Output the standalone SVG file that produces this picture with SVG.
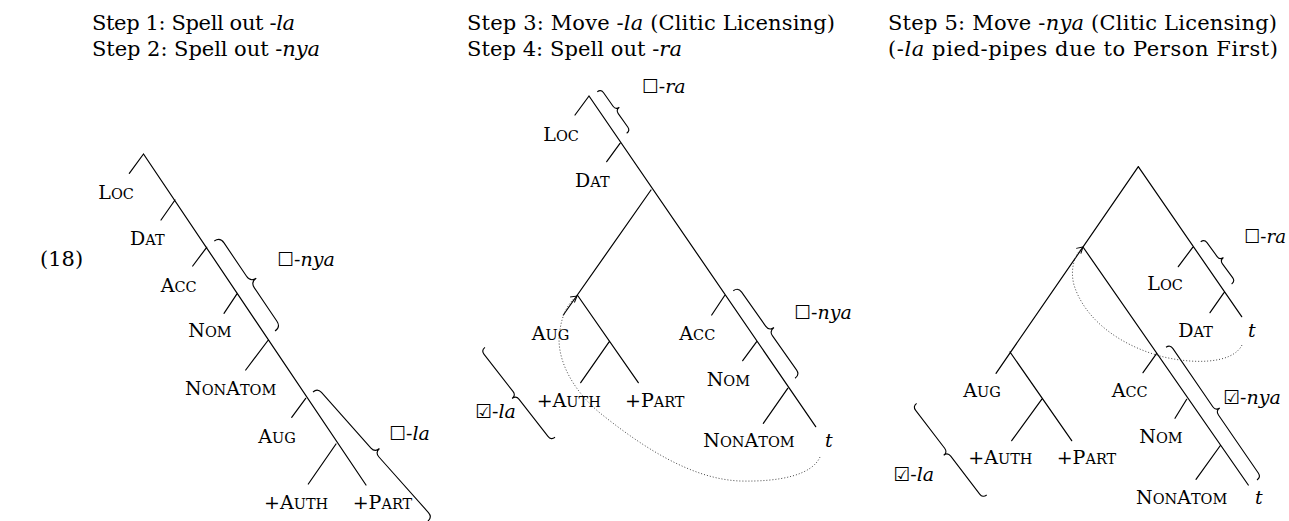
<svg xmlns="http://www.w3.org/2000/svg" width="1289" height="521" viewBox="0 0 1289 521">
<style>
.ln{stroke:#000;stroke-width:1.2;fill:none;stroke-linecap:round}
.br{stroke:#000;stroke-width:1.1;fill:none}
.dot{stroke:#444;stroke-width:1;fill:none;stroke-dasharray:1 2}
text{font-family:"DejaVu Serif",serif;fill:#000}
.h{font-size:21px}
.lb{font-size:19px}
.sc{font-size:14.5px}
.it{font-style:italic}
.bx{font-family:"DejaVu Sans",sans-serif;font-style:normal;font-size:19px}
</style>
<defs>
<marker id="ah" markerUnits="userSpaceOnUse" markerWidth="12" markerHeight="12" refX="0" refY="0" viewBox="-8 -6 10 12" orient="auto">
<path d="M-6,-3.5 L0,0 L-6,3.5" fill="none" stroke="#000" stroke-width="1"/>
</marker>
</defs>
<g id="headings">
<text class="h" x="92" y="30" textLength="203" lengthAdjust="spacing">Step 1: Spell out -<tspan class="it">la</tspan></text>
<text class="h" x="92" y="56" textLength="228" lengthAdjust="spacing">Step 2: Spell out -<tspan class="it">nya</tspan></text>
<text class="h" x="467" y="30" textLength="368" lengthAdjust="spacing">Step 3: Move -<tspan class="it">la</tspan> (Clitic Licensing)</text>
<text class="h" x="467" y="56" textLength="215" lengthAdjust="spacing">Step 4: Spell out -<tspan class="it">ra</tspan></text>
<text class="h" x="888" y="30" textLength="389" lengthAdjust="spacing">Step 5: Move -<tspan class="it">nya</tspan> (Clitic Licensing)</text>
<text class="h" x="888" y="56" textLength="390" lengthAdjust="spacing">(-<tspan class="it">la</tspan> pied-pipes due to Person First)</text>
<text class="h" x="40" y="266">(18)</text>
</g>
<g id="connectors">
<!-- tree 1 -->
<path class="ln" d="M143.5,154 L366,485 M143.5,154 L129.3,173.3 M175,200 L161,220 M206.7,247.3 L192.7,266 M237.3,293.3 L224,313.3 M268.3,340 L245.7,370 M305.7,398.3 L291.7,417.3 M336,444 L308.3,484"/>
<!-- tree 2 -->
<path class="ln" d="M589,96 L815.7,426.7 M589,96 L575,115 M620,143.3 L606.7,161.7 M725,295 L711.7,315 M756.7,341.7 L742.7,360.7 M787.7,388.3 L763.3,423.3 M651,190 L563.3,315 M577.3,295 L638.3,382.7 M609.3,341.7 L580.7,382.7"/>
<!-- tree 3 -->
<path class="ln" d="M1138.3,166.7 L996,373.3 M1010,352 L1071.7,440.7 M1041.7,399.3 L1011.7,440.7 M1138.3,166.7 L1241.7,316.7 M1192.7,247.3 L1178.3,266.7 M1224,292.7 L1210,312.7 M1083,247 L1248.3,485 M1156.7,353.3 L1143,372.7 M1186.7,399.3 L1175,418.3 M1220,446 L1196,479.3"/>
</g>
<g id="braces">
<path class="br" transform="translate(214.3,241) rotate(56)" d="M0,0 Q0,-7 7,-7 L47.3,-7 Q54.3,-7 54.3,-14 Q54.3,-7 61.3,-7 L101.6,-7 Q108.6,-7 108.6,0"/>
<path class="br" transform="translate(313,392) rotate(48.3)" d="M0,0 Q0,-6 6,-6 L80.4,-6 Q86.4,-6 86.4,-12 Q86.4,-6 92.4,-6 L166.8,-6 Q172.8,-6 172.8,0"/>
<path class="br" transform="translate(597.3,91.7) rotate(54.75)" d="M0,0 Q0,-4.5 4.5,-4.5 L20.95,-4.5 Q25.45,-4.5 25.45,-9 Q25.45,-4.5 29.95,-4.5 L46.4,-4.5 Q50.9,-4.5 50.9,0"/>
<path class="br" transform="translate(733.3,290.7) rotate(54.8)" d="M0,0 Q0,-6 6,-6 L47.55,-6 Q53.55,-6 53.55,-12 Q53.55,-6 59.55,-6 L101.1,-6 Q107.1,-6 107.1,0"/>
<path class="br" transform="translate(555,437.3) rotate(-127.9)" d="M0,0 Q0,-5 5,-5 L52,-5 Q57,-5 57,-10 Q57,-5 62,-5 L109,-5 Q114,-5 114,0"/>
<path class="br" transform="translate(1200.7,241.7) rotate(53.8)" d="M0,0 Q0,-4.5 4.5,-4.5 L21.7,-4.5 Q26.2,-4.5 26.2,-9 Q26.2,-4.5 30.7,-4.5 L47.9,-4.5 Q52.4,-4.5 52.4,0"/>
<path class="br" transform="translate(1166,347.3) rotate(55.56)" d="M0,0 Q0,-5 5,-5 L75.45,-5 Q80.45,-5 80.45,-10 Q80.45,-5 85.45,-5 L155.9,-5 Q160.9,-5 160.9,0"/>
<path class="br" transform="translate(986.7,495) rotate(-127.4)" d="M0,0 Q0,-5 5,-5 L52.7,-5 Q57.7,-5 57.7,-10 Q57.7,-5 62.7,-5 L110.4,-5 Q115.4,-5 115.4,0"/>
</g>
<g id="movement">
<path class="dot" marker-end="url(#ah)" d="M820,457 C812,475 780,482 740,481 C690,479 640,445 600,413 C570,388 555,355 560,330 C562,315 568,303 577,296"/>
<path class="dot" marker-end="url(#ah)" d="M1242,345 C1232,365 1190,364 1160,356 C1120,345 1085,320 1074,285 C1070,270 1074,255 1083,247"/>
</g>
<g id="t1-loc"><text class="lb" x="98.3" y="199">L<tspan class="sc">OC</tspan></text></g>
<g id="t1-dat"><text class="lb" x="130" y="245">D<tspan class="sc">AT</tspan></text></g>
<g id="t1-acc"><text class="lb" x="160.7" y="291.7">A<tspan class="sc">CC</tspan></text></g>
<g id="t1-nom"><text class="lb" x="188.3" y="337.3">N<tspan class="sc">OM</tspan></text></g>
<g id="t1-nonatom"><text class="lb" x="185" y="395">N<tspan class="sc">ON</tspan>A<tspan class="sc">TOM</tspan></text></g>
<g id="t1-aug"><text class="lb" x="258.3" y="442.7">A<tspan class="sc">UG</tspan></text></g>
<g id="t1-auth"><text class="lb" x="264" y="509.3">+A<tspan class="sc">UTH</tspan></text></g>
<g id="t1-part"><text class="lb" x="352.7" y="509.3">+P<tspan class="sc">ART</tspan></text></g>
<g id="t1-nya"><text class="lb" x="277" y="266"><tspan class="bx">☐</tspan>-<tspan class="it">nya</tspan></text></g>
<g id="t1-la"><text class="lb" x="389" y="440"><tspan class="bx">☐</tspan>-<tspan class="it">la</tspan></text></g>
<g id="t2-loc"><text class="lb" x="543.3" y="140.7">L<tspan class="sc">OC</tspan></text></g>
<g id="t2-dat"><text class="lb" x="575" y="186.7">D<tspan class="sc">AT</tspan></text></g>
<g id="t2-aug"><text class="lb" x="531.7" y="340">A<tspan class="sc">UG</tspan></text></g>
<g id="t2-auth"><text class="lb" x="536.7" y="406.7">+A<tspan class="sc">UTH</tspan></text></g>
<g id="t2-part"><text class="lb" x="625" y="406.7">+P<tspan class="sc">ART</tspan></text></g>
<g id="t2-acc"><text class="lb" x="679.3" y="340">A<tspan class="sc">CC</tspan></text></g>
<g id="t2-nom"><text class="lb" x="706.7" y="385.7">N<tspan class="sc">OM</tspan></text></g>
<g id="t2-nonatom"><text class="lb" x="703.3" y="447.3">N<tspan class="sc">ON</tspan>A<tspan class="sc">TOM</tspan></text></g>
<g id="t2-t"><text class="lb it" x="825" y="447.3">t</text></g>
<g id="t2-ra"><text class="lb" x="641.7" y="93.3"><tspan class="bx">☐</tspan>-<tspan class="it">ra</tspan></text></g>
<g id="t2-nya"><text class="lb" x="794" y="319"><tspan class="bx">☐</tspan>-<tspan class="it">nya</tspan></text></g>
<g id="t2-la"><text class="lb" x="475" y="418.3"><tspan class="bx">☑</tspan>-<tspan class="it">la</tspan></text></g>
<g id="t3-loc"><text class="lb" x="1147.3" y="290">L<tspan class="sc">OC</tspan></text></g>
<g id="t3-dat"><text class="lb" x="1178.3" y="336.7">D<tspan class="sc">AT</tspan></text></g>
<g id="t3-t1"><text class="lb it" x="1248" y="336.7">t</text></g>
<g id="t3-aug"><text class="lb" x="963.3" y="397.3">A<tspan class="sc">UG</tspan></text></g>
<g id="t3-auth"><text class="lb" x="968.3" y="464">+A<tspan class="sc">UTH</tspan></text></g>
<g id="t3-part"><text class="lb" x="1056.7" y="464">+P<tspan class="sc">ART</tspan></text></g>
<g id="t3-acc"><text class="lb" x="1111.7" y="397.3">A<tspan class="sc">CC</tspan></text></g>
<g id="t3-nom"><text class="lb" x="1139.3" y="443.3">N<tspan class="sc">OM</tspan></text></g>
<g id="t3-nonatom"><text class="lb" x="1136" y="504">N<tspan class="sc">ON</tspan>A<tspan class="sc">TOM</tspan></text></g>
<g id="t3-t2"><text class="lb it" x="1255" y="504">t</text></g>
<g id="t3-ra"><text class="lb" x="1244" y="243.3" textLength="42" lengthAdjust="spacingAndGlyphs"><tspan class="bx">☐</tspan>-<tspan class="it">ra</tspan></text></g>
<g id="t3-nya"><text class="lb" x="1223" y="404"><tspan class="bx">☑</tspan>-<tspan class="it">nya</tspan></text></g>
<g id="t3-la"><text class="lb" x="893.3" y="480.7"><tspan class="bx">☑</tspan>-<tspan class="it">la</tspan></text></g>
</svg>
